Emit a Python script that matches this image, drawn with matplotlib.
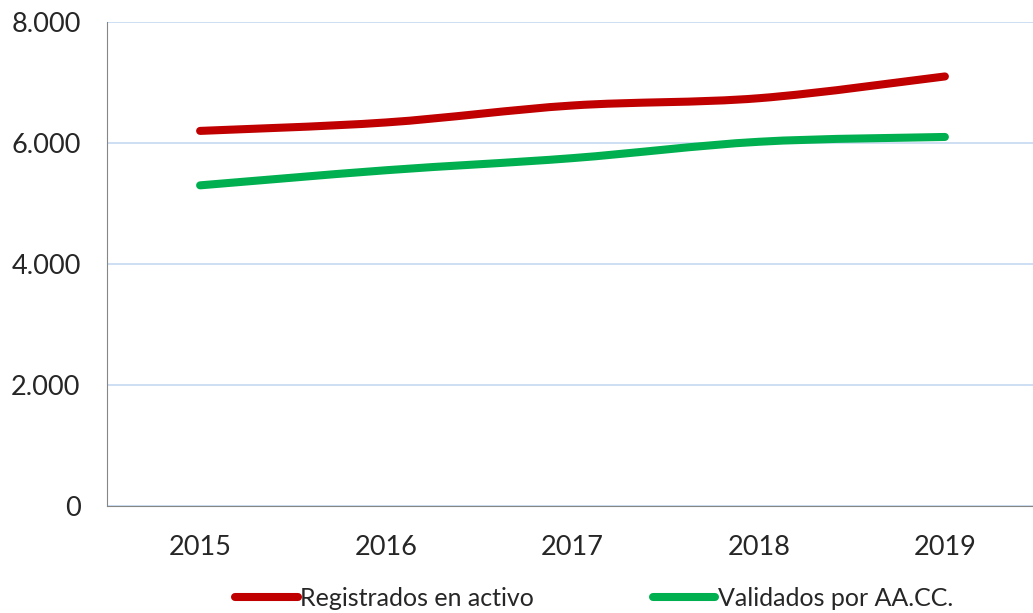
import numpy as np
import matplotlib
matplotlib.use('Agg')
import matplotlib.pyplot as plt
from matplotlib.path import Path
from matplotlib.patches import PathPatch
from matplotlib.lines import Line2D
from matplotlib.ticker import FuncFormatter

plt.rcParams['font.family'] = ['Lato', 'DejaVu Sans']

years = ['2015', '2016', '2017', '2018', '2019']
registrados = [6200, 6340, 6620, 6740, 7100]
validados = [5300, 5550, 5750, 6020, 6100]

red = '#C00000'
green = '#00B050'


def smooth_path(x, y):
    # bezier curve through the points, like excel's smoothed line
    pts = np.column_stack([x, y]).astype(float)
    n = len(pts)
    verts = [pts[0]]
    codes = [Path.MOVETO]
    for i in range(n - 1):
        p0 = pts[i - 1] if i > 0 else pts[i]
        p1 = pts[i]
        p2 = pts[i + 1]
        p3 = pts[i + 2] if i + 2 < n else pts[i + 1]
        c1 = p1 + (p2 - p0) / 6.0
        c2 = p2 - (p3 - p1) / 6.0
        verts += [c1, c2, p2]
        codes += [Path.CURVE4] * 3
    return Path(verts, codes)


fig = plt.figure(figsize=(10.33, 6.13), dpi=100)
ax = fig.add_axes([107 / 1033, 1 - 506 / 613, 931 / 1033, 484 / 613])

x = np.arange(len(years))
for vals, col in [(registrados, red), (validados, green)]:
    ax.add_patch(PathPatch(smooth_path(x, vals), facecolor='none',
                           edgecolor=col, lw=5.8, capstyle='round',
                           joinstyle='round', zorder=3))

ax.set_xlim(-0.5, len(years) - 0.5)
ax.set_ylim(0, 8000)
ax.set_yticks([0, 2000, 4000, 6000, 8000])
ax.yaxis.set_major_formatter(FuncFormatter(lambda v, p: f'{int(v):,}'.replace(',', '.')))
ax.set_xticks(x)
ax.set_xticklabels(years)
ax.grid(axis='y', color='#C5D9F1', lw=1.2)
ax.set_axisbelow(True)
for s in ['top', 'right']:
    ax.spines[s].set_visible(False)
ax.spines['left'].set_color('#868686')
ax.spines['bottom'].set_color('#868686')
ax.tick_params(axis='both', length=0, labelsize=19.5, colors='#262626')
ax.tick_params(axis='y', pad=19)
ax.tick_params(axis='x', pad=21)

handles = [Line2D([], [], color=red, lw=5.8, solid_capstyle='round'),
           Line2D([], [], color=green, lw=5.8, solid_capstyle='round')]
fig.legend(handles, ['Registrados en activo', 'Validados por AA.CC.'],
           loc='center', bbox_to_anchor=(594 / 1033, 1 - 598 / 613), ncol=2,
           frameon=False, fontsize=18, handlelength=2.5, handletextpad=0.1,
           columnspacing=4.75, labelcolor='#262626')

fig.savefig('out.png', dpi=100)
